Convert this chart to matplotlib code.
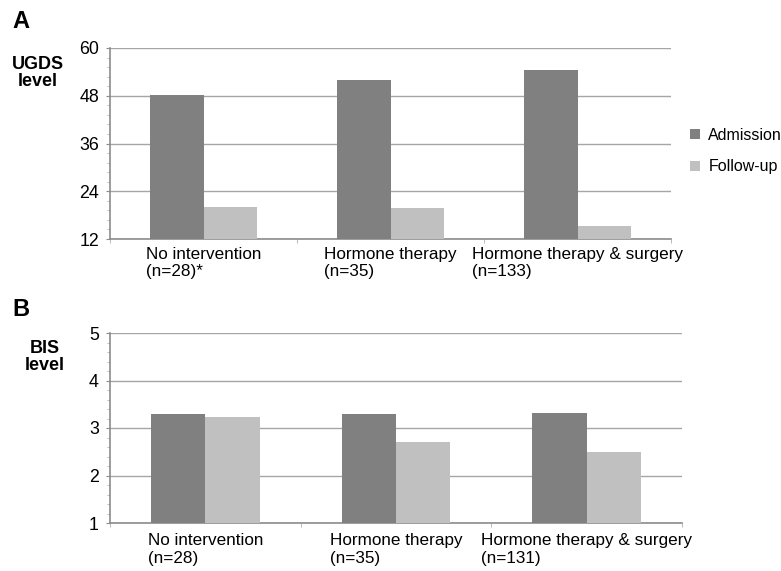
import numpy as np
import matplotlib
matplotlib.use("Agg")
import matplotlib.pyplot as plt
from matplotlib.ticker import MultipleLocator, FixedLocator

plt.rcParams['font.family'] = ['Liberation Sans', 'DejaVu Sans']

# data
groups = ['No intervention', 'Hormone therapy', 'Hormone therapy & surgery']
n_ugds = ['(n=28)*', '(n=35)', '(n=133)']
n_bis = ['(n=28)', '(n=35)', '(n=131)']
series = ['Admission', 'Follow-up']
ugds_admission = [48.3, 52.0, 54.5]
ugds_followup = [20.1, 19.9, 15.3]
bis_admission = [3.30, 3.30, 3.32]
bis_followup = [3.23, 2.71, 2.50]

c_adm = '#808080'
c_fu = '#c0c0c0'
grid_c = '#a6a6a6'
spine_c = '#8c8c8c'

W, H = 781, 571
fig = plt.figure(figsize=(W / 100, H / 100), dpi=100)


def px_axes(left, top, right, bottom):
    return fig.add_axes([left / W, 1 - bottom / H, (right - left) / W, (bottom - top) / H])


def draw_panel(ax, adm, fu, ns, ymin, ymax, ystep, label_pad):
    x = np.arange(len(groups))
    w = 0.285
    ax.bar(x - w / 2, adm, w, color=c_adm, zorder=3, label=series[0])
    ax.bar(x + w / 2, fu, w, color=c_fu, zorder=3, label=series[1])
    ax.set_xlim(-0.5, len(groups) - 0.5)
    ax.set_ylim(ymin, ymax)
    ax.yaxis.set_major_locator(MultipleLocator(ystep))
    ax.yaxis.set_minor_locator(MultipleLocator(ystep / 5))
    ax.grid(axis='y', which='major', color=grid_c, linewidth=1, zorder=0)
    for s in ['top', 'right']:
        ax.spines[s].set_visible(False)
    for s in ['left', 'bottom']:
        ax.spines[s].set_color(spine_c)
        ax.spines[s].set_linewidth(1.2)
    ax.tick_params(axis='y', which='major', length=3, color=spine_c, labelsize=12.8, pad=5)
    ax.tick_params(axis='y', which='minor', length=2, color='#b0b0b0')
    ax.set_xticks(x)
    ax.set_xticklabels([f'{g}\n{n}' for g, n in zip(groups, ns)], fontsize=12.3,
                       multialignment='left', linespacing=1.2)
    ax.xaxis.set_minor_locator(FixedLocator(np.arange(-0.5, len(groups), 1.0)))
    ax.tick_params(axis='x', which='major', length=0, pad=label_pad)
    ax.tick_params(axis='x', which='minor', length=3, color='#b0b0b0')


axA = px_axes(110, 48, 671, 239)
draw_panel(axA, ugds_admission, ugds_followup, n_ugds, 12, 60, 12, 5.5)
axB = px_axes(110, 333, 682, 523)
draw_panel(axB, bis_admission, bis_followup, n_bis, 1, 5, 1, 7.5)

fig.text(12 / W, 1 - 22 / H, 'A', fontsize=17, fontweight='bold', va='center', ha='left')
fig.text(38 / W, 1 - 73 / H, 'UGDS\nlevel', fontsize=13, fontweight='bold',
         va='center', ha='center', linespacing=1.0)
fig.text(12 / W, 1 - 309 / H, 'B', fontsize=17, fontweight='bold', va='center', ha='left')
fig.text(45 / W, 1 - 357 / H, 'BIS\nlevel', fontsize=13, fontweight='bold',
         va='center', ha='center', linespacing=1.0)

handles, labels = axA.get_legend_handles_labels()
fig.legend(handles, labels, loc='center left', bbox_to_anchor=(690 / W, 1 - 151 / H),
           frameon=False, fontsize=11.5, handlelength=0.6, handleheight=0.6,
           handletextpad=0.55, labelspacing=1.05, borderpad=0, borderaxespad=0)

fig.savefig('out.png', dpi=100)
